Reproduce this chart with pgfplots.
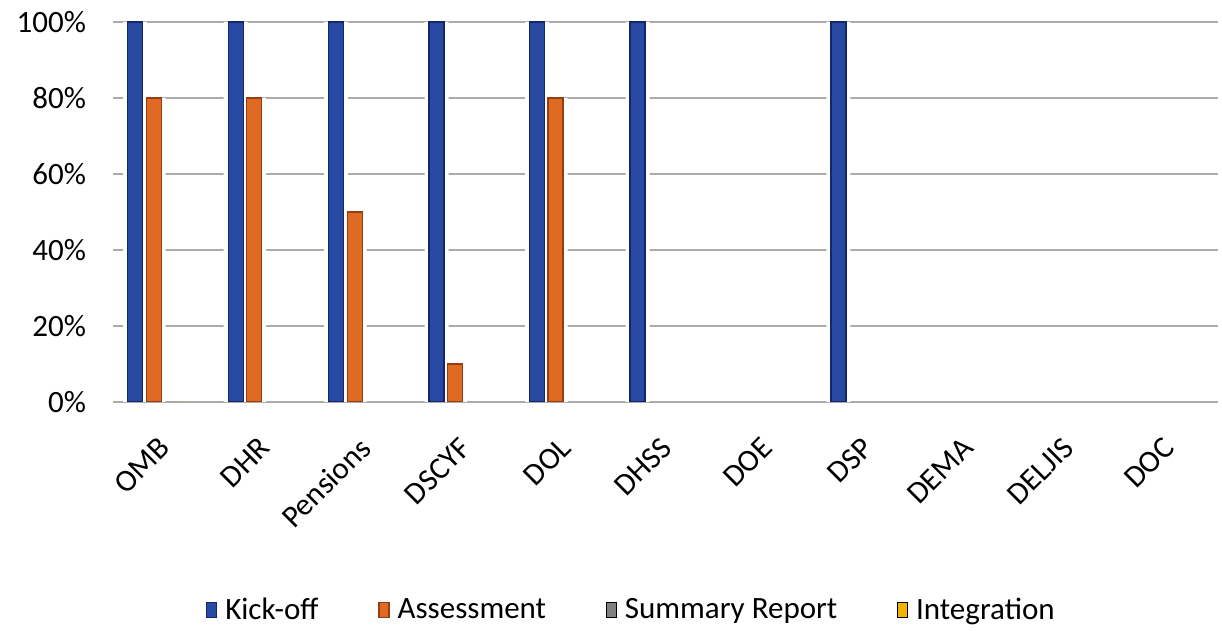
\documentclass[border=0pt]{standalone}
\usepackage{fontspec}
\setmainfont{Carlito}
\usepackage{pgfplots}
\pgfplotsset{compat=1.18}
\definecolor{kbedge}{RGB}{20,38,105}
\definecolor{kbfill}{RGB}{40,74,162}
\definecolor{aoedge}{RGB}{150,62,18}
\definecolor{aofill}{RGB}{222,106,36}
\definecolor{sgray}{RGB}{128,128,128}
\definecolor{iyel}{RGB}{240,180,0}
\begin{document}
\begin{tikzpicture}[font=\fontsize{15.5}{18}\selectfont]
\begin{axis}[name=ax,
  set layers,
  scale only axis, width=552.5pt, height=190pt,
  ybar, bar width=7.5pt,
  xmin=-0.5, xmax=10.5, ymin=0, ymax=100,
  xtick={0,1,2,3,4,5,6,7,8,9,10},
  xticklabels={OMB,DHR,Pensions,DSCYF,DOL,DHSS,DOE,DSP,DEMA,DELJIS,DOC},
  ytick={0,20,40,60,80,100},
  yticklabels={0\%,20\%,40\%,60\%,80\%,100\%},
  axis line style={draw=none},
  major tick length=0pt,
  ymajorgrids,
  grid style={color=black!33, line width=1.4pt},
  xticklabel style={xshift=3pt, yshift=-18pt, rotate=45, anchor=east},
  yticklabel style={xshift=-10pt},
  legend columns=4,
  legend style={draw=none, fill=none, at={(0.47,-0.547)}, anchor=center,
    /tikz/every even column/.append style={column sep=28pt},
    /tikz/every odd column/.append style={column sep=2pt}},
  legend image code/.code={\draw[#1] (0pt,-3.8pt) rectangle (5pt,3.8pt);},
]
% white halos behind bars (break the grid lines)
\addplot[fill=white, draw=none, bar width=12pt, bar shift=-14pt, forget plot]
  coordinates {(0,100) (1,100) (2,100) (3,100) (4,100) (5,100) (7,100)};
\addplot[fill=white, draw=none, bar width=12pt, bar shift=-4.75pt, forget plot]
  coordinates {(0,80) (1,80) (2,50) (3,10) (4,80)};
% series
\addplot[draw=kbedge, line width=0.6pt, fill=kbfill, bar shift=-14pt]
  coordinates {(0,100) (1,100) (2,100) (3,100) (4,100) (5,100) (7,100)};
\addlegendentry{Kick-off}
\addplot[draw=aoedge, line width=0.6pt, fill=aofill, bar shift=-4.75pt]
  coordinates {(0,80) (1,80) (2,50) (3,10) (4,80)};
\addlegendentry{Assessment}
\addplot[fill=sgray, draw=none, bar shift=4.5pt]
  coordinates {(0,0)};
\addlegendentry{Summary Report}
\addplot[fill=iyel, draw=none, bar shift=14pt]
  coordinates {(0,0)};
\addlegendentry{Integration}
\end{axis}
\path ([xshift=-56.5pt,yshift=-114pt]ax.south west) rectangle ([xshift=2pt,yshift=11pt]ax.north east);
\end{tikzpicture}
\end{document}
